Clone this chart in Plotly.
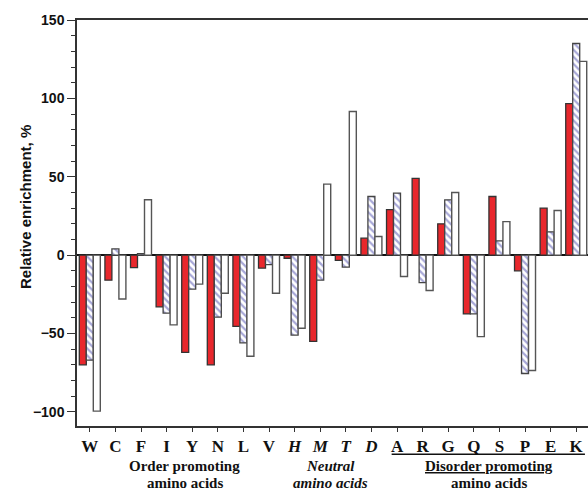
import plotly.graph_objects as go

# ---- data ----
amino = ["W", "C", "F", "I", "Y", "N", "L", "V", "H", "M", "T", "D",
         "A", "R", "G", "Q", "S", "P", "E", "K"]
italic_set = ["H", "M", "T", "D"]
series_red = [-70, -16, -8, -33, -62, -70, -45.5, -8.3, -2, -55, -3.4, 10.8,
              29, 49, 20, -37.5, 37.4, -10, 30, 96.6]
series_hatch = [-67, 4, 1, -37, -21.7, -39.6, -56, -6, -51, -16, -7.7, 37.4,
                39.6, -17.5, 35.3, -37.5, 9.1, -75.5, 14.9, 135]
series_white = [-99.5, -28, 35.3, -44.5, -18.5, -24.3, -64.5, -24.3, -46.6, 45.3, 91.6, 11.9,
                -13.6, -22.6, 40, -52, 21.4, -73.6, 28.5, 123.6]
y_ticks = [-100, -50, 0, 50, 100, 150]

xs = list(range(len(amino)))
ticktext = [f"<b><i>{a}</i></b>" if a in italic_set else f"<b>{a}</b>" for a in amino]

fig = go.Figure()
fig.add_trace(go.Bar(x=xs, y=series_red, marker=dict(color="#e8272c",
                     line=dict(color="#333333", width=1.3)), showlegend=False))
fig.add_trace(go.Bar(x=xs, y=series_hatch, marker=dict(color="white",
                     pattern=dict(shape="\\", fgcolor="#4f4fb0", bgcolor="white",
                                  size=5, solidity=0.45),
                     line=dict(color="#444444", width=1.3)), showlegend=False))
fig.add_trace(go.Bar(x=xs, y=series_white, marker=dict(color="white",
                     line=dict(color="#555555", width=1.4)), showlegend=False))

W, H = 588, 492
ml, mr, mt, mb = 77, 0, 20, 66
pw, ph = W - ml - mr, H - mt - mb

def px_to_paper_y(py):
    return (H - mb - py) / ph

def px_to_paper_x(px):
    return (px - ml) / pw

serif = "Liberation Serif"
sans = "Liberation Sans"

annotations = []
groups = [
    (3.71, "<b>Order promoting</b>", "<b>amino acids</b>"),
    (9.41, "<b><i>Neutral</i></b>", "<b><i>amino acids</i></b>"),
    (15.6, "<b><u>Disorder promoting</u></b>", "<b>amino acids</b>"),
]
for gx, l1, l2 in groups:
    annotations.append(dict(x=gx, xref="x", y=px_to_paper_y(465.7), yref="paper",
                            text=l1, showarrow=False, yanchor="middle", xanchor="center",
                            font=dict(family=serif, size=15, color="#111")))
    annotations.append(dict(x=gx, xref="x", y=px_to_paper_y(483.5), yref="paper",
                            text=l2, showarrow=False, yanchor="middle", xanchor="center",
                            font=dict(family=serif, size=15, color="#111")))

annotations.append(dict(x=px_to_paper_x(25), xref="paper", y=px_to_paper_y(207), yref="paper",
                        text="<b>Relative enrichment, %</b>", textangle=-90, showarrow=False,
                        xanchor="center", yanchor="middle",
                        font=dict(family=sans, size=15, color="#111")))

shapes = [dict(type="line", xref="x", yref="paper", x0=11.79, x1=19.34,
               y0=px_to_paper_y(454.3), y1=px_to_paper_y(454.3),
               line=dict(color="#111", width=1.5))]

fig.update_layout(
    width=W, height=H,
    margin=dict(l=ml, r=mr, t=mt, b=mb, pad=0),
    paper_bgcolor="white", plot_bgcolor="white",
    barmode="group", bargap=0.18, bargroupgap=0,
    annotations=annotations, shapes=shapes,
    xaxis=dict(range=[-0.5, 19.46], tickmode="array", tickvals=xs, ticktext=ticktext,
               tickfont=dict(family=serif, size=17, color="#111"),
               showline=True, linecolor="#333", linewidth=1.5, mirror=True,
               ticks="outside", ticklen=4, tickwidth=1.2, tickcolor="#333",
               showgrid=False, zeroline=False, fixedrange=True),
    yaxis=dict(range=[-109, 150], tickmode="array", tickvals=y_ticks,
               tickfont=dict(family=sans, size=14, color="#111", weight="bold"),
               showline=True, linecolor="#333", linewidth=1.5,
               ticks="outside", ticklen=8, tickwidth=1.2, tickcolor="#333",
               minor=dict(dtick=10, ticks="outside", ticklen=4, tickwidth=1.2, tickcolor="#333"),
               showgrid=False, zeroline=True, zerolinecolor="#111", zerolinewidth=1.6,
               fixedrange=True),
)

fig.write_html("out.html")
